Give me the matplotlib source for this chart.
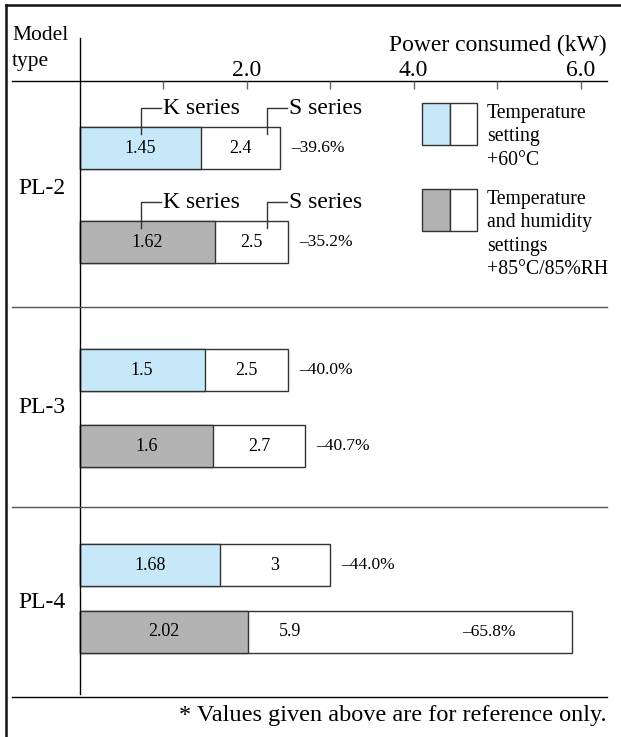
import matplotlib.pyplot as plt
from matplotlib.patches import Rectangle

plt.rcParams['font.family'] = ['Liberation Serif', 'DejaVu Serif']

# power consumption per model (kW)
models = ['PL-2', 'PL-3', 'PL-4']
k_temp = [1.45, 1.5, 1.68]
s_temp = [2.4, 2.5, 3]
k_humid = [1.62, 1.6, 2.02]
s_humid = [2.5, 2.7, 5.9]
cut_temp = ['–39.6%', '–40.0%', '–44.0%']
cut_humid = ['–35.2%', '–40.7%', '–65.8%']
ticks = [1, 2, 3, 4, 5, 6]
tick_labels = ['', '2.0', '', '4.0', '', '6.0']

BLUE = '#c6e8f8'
GRAY = '#b3b3b3'
EDGE = '#333333'

W, H = 621, 737
X0, SCALE = 79.5, 83.5   # pixel position of 0 kW and pixels per kW


def px(x):
    # horizontal pixel -> kW axis units
    return (x - X0) / SCALE


fig = plt.figure(figsize=(W / 100, H / 100), dpi=100)
ax = fig.add_axes([0, 0, 1, 1])
ax.set_xlim(px(0), px(W))
ax.set_ylim(H, 0)
ax.axis('off')

# row layout: centre of the temperature bar and the humidity bar per model
row_y = [(148, 242), (370, 446), (565, 632)]
label_y = [188, 407, 603]
bar_h = 42

# frame, header and separators
ax.plot([px(5.5), px(W)], [5, 5], color='#111111', lw=1.8)
ax.plot([px(5.5), px(5.5)], [5, H], color='#111111', lw=1.8)
ax.plot([0, 0], [38, 694], color='black', lw=1)
ax.plot([px(12), px(607)], [81, 81], color='black', lw=1)
for yy, c in [(307, '#555555'), (507, '#555555'), (697, 'black')]:
    ax.plot([px(12), px(607)], [yy, yy], color=c, lw=1)

ax.vlines(ticks, 81, 89, color='#666666', lw=1)
for t, lab in zip(ticks, tick_labels):
    ax.text(t, 70, lab, ha='center', va='center', fontsize=17)
ax.text(px(607), 45, 'Power consumed (kW)', ha='right', va='center', fontsize=17)
ax.text(px(12), 35, 'Model', ha='left', va='center', fontsize=15.5)
ax.text(px(12), 61, 'type', ha='left', va='center', fontsize=15.5)


def draw_bar(y, k, s, cut, color):
    ax.barh(y, s, height=bar_h, color='white', edgecolor=EDGE, lw=1)
    ax.barh(y, k, height=bar_h, color=color, edgecolor=EDGE, lw=1)
    ax.text(k / 2, y, f'{k:g}', ha='center', va='center', fontsize=13)
    if s > 5:
        ax.text(k + 0.5, y, f'{s:g}', ha='center', va='center', fontsize=13)
        ax.text(s - 1.0, y, cut, ha='center', va='center', fontsize=12.5)
    else:
        ax.text((k + s) / 2, y, f'{s:g}', ha='center', va='center', fontsize=13)
        ax.text(s + 0.13, y, cut, ha='left', va='center', fontsize=12.5)


def callout(x, y_bar, text):
    top = y_bar - bar_h / 2
    ty = top - 19
    ax.plot([x, x, x + 0.24], [top + 7, ty, ty], color=EDGE, lw=1)
    ax.text(x + 0.26, ty, text, ha='left', va='center', fontsize=17)


for i, m in enumerate(models):
    ya, yb = row_y[i]
    draw_bar(ya, k_temp[i], s_temp[i], cut_temp[i], BLUE)
    draw_bar(yb, k_humid[i], s_humid[i], cut_humid[i], GRAY)
    ax.text(px(18), label_y[i], m, ha='left', va='center', fontsize=17)

for yb in row_y[0]:
    callout(0.74, yb, 'K series')
    callout(2.25, yb, 'S series')

# legend swatches
for top, color, lines in [(103, BLUE, ['Temperature', 'setting', '+60°C']),
                          (189, GRAY, ['Temperature', 'and humidity', 'settings',
                                       '+85°C/85%RH'])]:
    ax.add_patch(Rectangle((px(422), top), px(450) - px(422), 42,
                           facecolor=color, edgecolor=EDGE, lw=1))
    ax.add_patch(Rectangle((px(450), top), px(477) - px(450), 42,
                           facecolor='white', edgecolor=EDGE, lw=1))
    for j, line in enumerate(lines):
        ax.text(px(487), top + 10 + 23.5 * j, line, ha='left', va='center',
                fontsize=14.2)

ax.text(px(607), 715, '* Values given above are for reference only.',
        ha='right', va='center', fontsize=17.5)

fig.savefig('out.png', dpi=100)
